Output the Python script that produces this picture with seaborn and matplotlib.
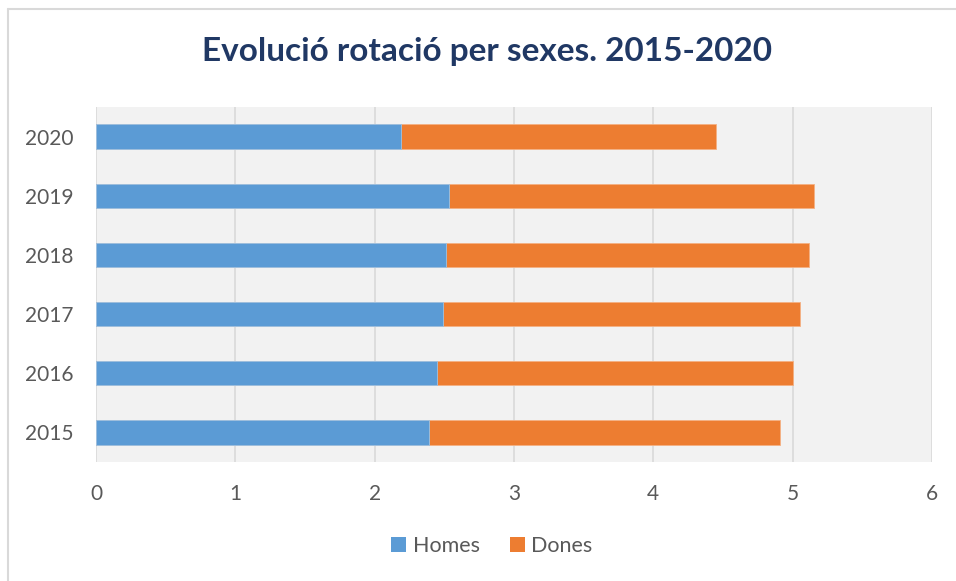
import matplotlib
matplotlib.use("Agg")
import matplotlib.pyplot as plt
from matplotlib.lines import Line2D
from matplotlib.patches import Patch
import seaborn as sns
import pandas as pd

years = ["2020", "2019", "2018", "2017", "2016", "2015"]
homes = [2.19, 2.53, 2.51, 2.49, 2.45, 2.39]
dones = [2.26, 2.62, 2.61, 2.56, 2.55, 2.52]
xticks = [0, 1, 2, 3, 4, 5, 6]

c_homes = "#5B9BD5"
c_dones = "#ED7D31"
txt = "#595959"

sns.set_style("white")
plt.rcParams["font.family"] = ["Lato", "DejaVu Sans"]

df = pd.DataFrame({"year": years, "Homes": homes, "Dones": dones})
df["Total"] = df["Homes"] + df["Dones"]

W, H = 956, 581
fig = plt.figure(figsize=(W / 100, H / 100), dpi=100)
ax = fig.add_axes([96 / W, 1 - 462 / H, (932 - 96) / W, (462 - 107) / H])
ax.set_facecolor("#F2F2F2")

sns.barplot(data=df, y="year", x="Total", order=years, color=c_dones,
            width=0.41, ax=ax, edgecolor="#F4B183", linewidth=0.6, saturation=1)
sns.barplot(data=df, y="year", x="Homes", order=years, color=c_homes,
            width=0.41, ax=ax, edgecolor="#9DC3E6", linewidth=0.6, saturation=1)

ax.set_xlim(0, 6)
ax.set_xticks(xticks)
ax.set_xticklabels([str(t) for t in xticks])
ax.grid(axis="x", color="#D9D9D9", linewidth=1.2)
ax.set_axisbelow(True)
for s in ax.spines.values():
    s.set_visible(False)
ax.set_xlabel("")
ax.set_ylabel("")
ax.tick_params(axis="both", length=0, colors=txt, labelsize=15)
ax.tick_params(axis="x", pad=16)
ax.tick_params(axis="y", pad=16.5)

fig.text(487 / W, 1 - 52 / H, "Evolució rotació per sexes. 2015-2020",
         ha="center", va="center", fontsize=24, fontweight="bold", color="#203864")

handles = [Patch(facecolor=c_homes, edgecolor="none"),
           Patch(facecolor=c_dones, edgecolor="none")]
fig.legend(handles, ["Homes", "Dones"], loc="center", ncol=2,
           bbox_to_anchor=(492 / W, 1 - 546 / H), frameon=False,
           fontsize=15.5, labelcolor=txt, handlelength=0.7, handleheight=0.7,
           handletextpad=0.3, columnspacing=1.4)

# chart border (top and left visible)
fig.add_artist(Line2D([8 / W, 8 / W], [0, 1 - 9 / H], transform=fig.transFigure,
                      color="#D9D9D9", linewidth=1.5))
fig.add_artist(Line2D([8 / W, 1], [1 - 9 / H, 1 - 9 / H], transform=fig.transFigure,
                      color="#D9D9D9", linewidth=1.5))

fig.savefig("out.png", dpi=100, facecolor="white")
